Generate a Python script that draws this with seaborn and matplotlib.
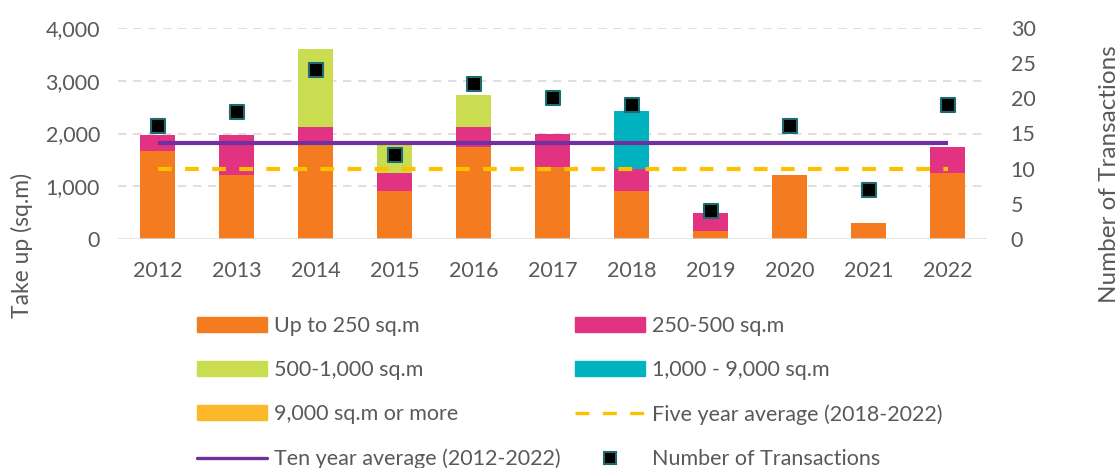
import numpy as np
import pandas as pd
import matplotlib
matplotlib.use("Agg")
import matplotlib.pyplot as plt
from matplotlib.patches import Patch
from matplotlib.lines import Line2D
import seaborn as sns

years = ["2012", "2013", "2014", "2015", "2016", "2017", "2018", "2019", "2020", "2021", "2022"]
up_to_250 = [1670, 1210, 1780, 910, 1745, 1360, 910, 150, 1210, 300, 1250]
s250_500 = [300, 765, 340, 345, 375, 640, 415, 340, 0, 0, 490]
s500_1000 = [0, 0, 1480, 545, 607, 0, 0, 0, 0, 0, 0]
s1000_9000 = [0, 0, 0, 0, 0, 0, 1100, 0, 0, 0, 0]
s9000_plus = [0, 0, 0, 0, 0, 0, 0, 0, 0, 0, 0]
transactions = [16, 18, 24, 12, 22, 20, 19, 4, 16, 7, 19]
five_year_avg = 1320
ten_year_avg = 1815

series_names = ["Up to 250 sq.m", "250-500 sq.m", "500-1,000 sq.m", "1,000 - 9,000 sq.m", "9,000 sq.m or more"]
series_vals = [up_to_250, s250_500, s500_1000, s1000_9000, s9000_plus]
colors = ["#F47B20", "#E23383", "#CADC50", "#00B3BE", "#FBB829"]
five_col = "#FFC000"
ten_col = "#7030A0"
grey = "#595959"

sns.set_theme(style="white")
plt.rcParams["font.family"] = ["Lato", "DejaVu Sans"]

fig = plt.figure(figsize=(11.19, 4.68), dpi=100)
ax = fig.add_axes([118 / 1119, 1 - 239 / 468, (987 - 118) / 1119, (239 - 28) / 468])

df = pd.DataFrame({"year": years})
cum = np.zeros(len(years))
cums = []
for v in series_vals:
    cum = cum + np.array(v)
    cums.append(cum.copy())
# draw from the top of the stack downwards
for name, c, col in reversed(list(zip(series_names, cums, colors))):
    d = df.copy()
    d["val"] = c
    sns.barplot(data=d, x="year", y="val", color=col, saturation=1, width=0.44,
                ax=ax, zorder=2, linewidth=0)

x_pos = np.arange(len(years))
ax.hlines(ten_year_avg, x_pos[0], x_pos[-1], color=ten_col, lw=3, zorder=4)
ax.hlines(five_year_avg, x_pos[0], x_pos[-1], color=five_col, lw=3, linestyles=(0, (3.3, 3.2)), zorder=4)

ax.set_xlim(-0.5, len(years) - 0.5)
ax.set_ylim(0, 4000)
ax.set_yticks([0, 1000, 2000, 3000, 4000])
ax.set_yticklabels(["0", "1,000", "2,000", "3,000", "4,000"])
for yv in [1000, 2000, 3000, 4000]:
    ax.axhline(yv, color="#D9D9D9", lw=1.2, ls=(0, (5, 4)), zorder=1)
ax.axhline(0, color="#D9D9D9", lw=1.8, zorder=5)
for s in ax.spines.values():
    s.set_visible(False)
ax.tick_params(axis="x", length=0, pad=16, labelsize=15.5, labelcolor=grey)
ax.tick_params(axis="y", length=0, pad=13, labelsize=15.5, labelcolor=grey)
ax.set_xlabel("")
ax.set_ylabel("Take up (sq.m)", fontsize=16.5, color=grey)
ax.yaxis.set_label_coords((33 - 118) / 869, (239 - 245) / 211)

ax2 = ax.twinx()
sns.scatterplot(x=x_pos, y=transactions, marker="s", s=90, color="black",
                edgecolor="#1D6B6E", linewidth=1.5, ax=ax2, zorder=6)
ax2.set_ylim(0, 30)
ax2.set_yticks([0, 5, 10, 15, 20, 25, 30])
for s in ax2.spines.values():
    s.set_visible(False)
ax2.tick_params(axis="y", length=0, pad=17, labelsize=15.5, labelcolor=grey)
ax2.set_ylabel("Number of Transactions", fontsize=17.5, color=grey)
ax2.yaxis.set_label_coords((1099 - 118) / 869, (239 - 174) / 211)
ax2.grid(False)
ax.grid(False)

h = [Patch(color=c) for c in colors]
h_five = Line2D([], [], color=five_col, lw=2.4, ls=(0, (4.2, 4.0)))
h_ten = Line2D([], [], color=ten_col, lw=2.4)
h_num = Line2D([], [], marker="s", ls="none", color="black", markeredgecolor="#1D6B6E",
               markersize=8, markeredgewidth=1.5)
handles = [h[0], h[2], h[4], h_ten, h[1], h[3], h_five, h_num]
labels = [series_names[0], series_names[2], series_names[4], "Ten year average (2012-2022)",
          series_names[1], series_names[3], "Five year average (2018-2022)", "Number of Transactions"]
leg = fig.legend(handles, labels, ncol=2, loc="upper left", bbox_to_anchor=(188 / 1119, 1 - 307 / 468),
                 frameon=False, fontsize=15.5, handlelength=3.25, handleheight=0.7,
                 handletextpad=0.35, labelspacing=1.13, columnspacing=0.66, borderaxespad=0)
for t in leg.get_texts():
    t.set_color(grey)

fig.savefig("out.png", dpi=100)
